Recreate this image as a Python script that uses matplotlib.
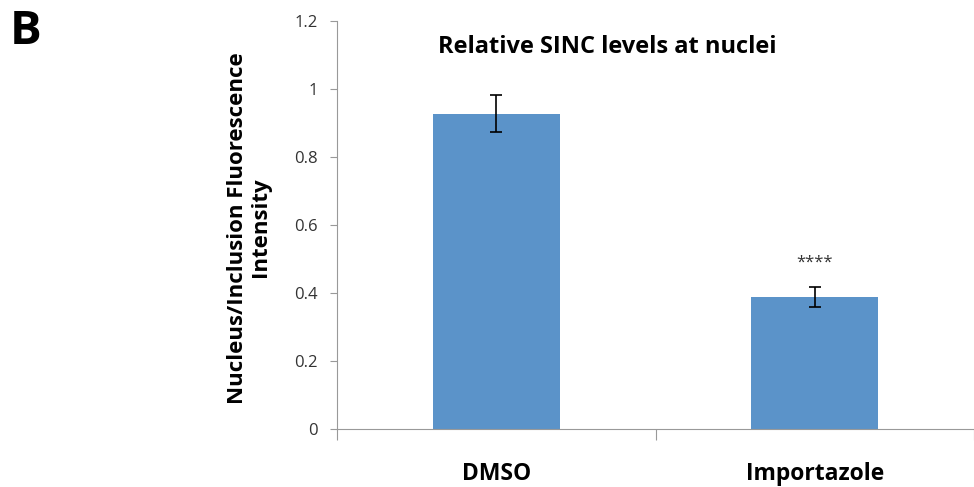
import matplotlib.pyplot as plt

plt.rcParams['font.family'] = ['Open Sans', 'DejaVu Sans']

categories = ['DMSO', 'Importazole']
means = [0.928, 0.389]
errors = [0.054, 0.030]
stars = ['', '****']

fig = plt.figure(figsize=(9.74, 4.87), dpi=100)
ax = fig.add_axes([0.346, 0.119, 0.654, 0.837])

pos = [0.5, 1.5]
ax.bar(pos, means, width=0.4, color='#5b93c9', zorder=2)
ax.errorbar(pos, means, yerr=errors, fmt='none', ecolor='black',
            elinewidth=1.2, capsize=4, capthick=1.2, zorder=3)
for x, m, e, s in zip(pos, means, errors, stars):
    if s:
        ax.text(x, m + e + 0.07, s, ha='center', va='center', fontsize=12, color='#333333')

ax.set_xlim(0, 2)
ax.set_ylim(0, 1.2)
ax.set_yticks([0, 0.2, 0.4, 0.6, 0.8, 1.0, 1.2])
ax.set_yticklabels(['0', '0.2', '0.4', '0.6', '0.8', '1', '1.2'])
ax.set_xticks([0, 1, 2])
ax.set_xticklabels([])
ax.set_xticks(pos, minor=True)
ax.set_xticklabels(categories, minor=True, fontsize=16.5, fontweight='bold')
ax.tick_params(axis='x', which='minor', length=0, pad=24)
ax.tick_params(axis='x', which='major', length=8, color='#999999')
ax.tick_params(axis='y', length=5, color='#999999', labelsize=12, labelcolor='#333333', pad=9)

for side in ['top', 'right']:
    ax.spines[side].set_visible(False)
for side in ['left', 'bottom']:
    ax.spines[side].set_color('#999999')

ax.set_ylabel('Nucleus/Inclusion Fluorescence\nIntensity', fontsize=16, fontweight='bold',
              linespacing=1.1)
ax.yaxis.set_label_coords(-0.104, 0.494)
fig.text(0.623, 0.903, 'Relative SINC levels at nuclei', ha='center', va='center',
         fontsize=17, fontweight='bold')
fig.text(0.01, 0.935, 'B', fontsize=34, fontweight='bold', ha='left', va='center')

fig.savefig('out.png', dpi=100)
